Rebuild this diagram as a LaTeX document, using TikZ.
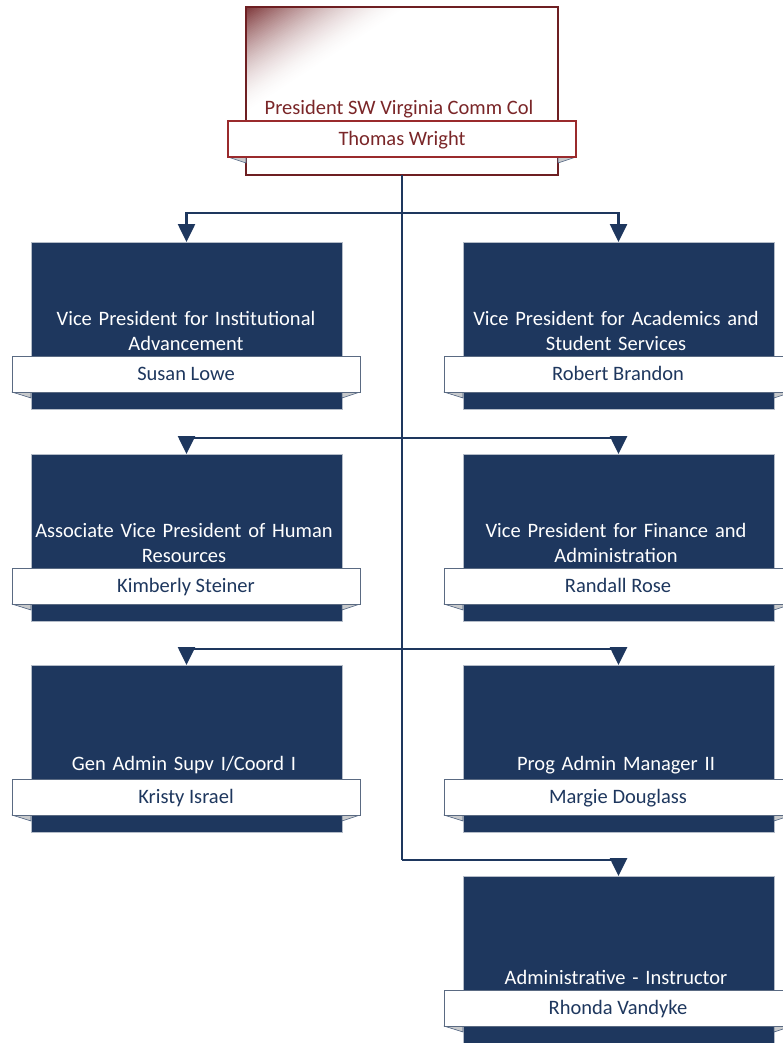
\documentclass[tikz,border=0pt]{standalone}
\usepackage{fontspec}
\setmainfont{Carlito}
\usetikzlibrary{arrows.meta}
\definecolor{navy}{HTML}{1E375E}
\definecolor{maroon}{HTML}{6E1F22}
\definecolor{stripred}{HTML}{9A2A2C}
\definecolor{txtred}{HTML}{7A2628}
\definecolor{edgegray}{HTML}{B4BCC8}
\definecolor{stripedge}{HTML}{5A6A82}
\definecolor{foldgray}{HTML}{C8CACC}
\begin{document}
\begin{tikzpicture}[x=1pt,y=-1pt,
  vpbox/.style={draw=edgegray,line width=1pt,fill=navy,minimum width=311pt,minimum height=167pt,inner sep=0pt,outer sep=0pt},
  namestrip/.style={draw=stripedge,line width=1pt,fill=white,minimum width=348pt,minimum height=36pt,inner sep=0pt,text=navy,font=\fontsize{20.5}{24}\selectfont,text height=15pt,text depth=2pt},
  vptitle/.style={anchor=south,text width=320pt,align=center,text=white,inner sep=0pt,font=\fontsize{20.5}{25.5}\selectfont},
  conn/.style={draw=navy,line width=2.6pt,-{Triangle[length=18pt,width=17pt]}},
  trunk/.style={draw=navy,line width=2.6pt},
  fold/.style={fill=foldgray,draw=navy!80,line width=0.6pt,line join=round}]
\useasboundingbox (0,0) rectangle (783,1043);
\clip (0,0) rectangle (783,1043);

% ---- President box ----
\node[draw=maroon,line width=1.6pt,fill=white,minimum width=312pt,minimum height=168pt,inner sep=0pt,outer sep=0pt] (pres) at (402,91) {};
\foreach \i in {50,49,...,0}{
  \pgfmathsetmacro{\t}{\i/50}
  \pgfmathsetmacro{\pc}{92*(1-\t)^1.7}
  \fill[maroon!\pc!white] (246,7) -- ({246+165*\t},7) -- (246,{7+108*\t}) -- cycle;
}
\draw[maroon,line width=1.6pt] (246,7) rectangle (558,175);
\fill[fold] (228,157) -- (246,157) -- (246,163) -- cycle;
\fill[fold] (576,157) -- (558,157) -- (558,163) -- cycle;
\node[anchor=south,text=txtred,inner sep=0pt,font=\fontsize{20.5}{24}\selectfont] (prest) at (399,118) {President SW Virginia Comm Col};
\node[draw=stripred,line width=1.6pt,fill=white,minimum width=348pt,minimum height=36pt,inner sep=0pt,text=txtred,font=\fontsize{20.5}{24}\selectfont,text height=15pt,text depth=2pt] (presn) at (402,139) {Thomas Wright};

% ---- VP boxes ----
\node[vpbox] (b1) at (186.5,325.5) {};
\node[vpbox] (b2) at (618.5,325.5) {};
\node[vpbox] (b3) at (186.5,537.5) {};
\node[vpbox] (b4) at (618.5,537.5) {};
\node[vpbox] (b5) at (186.5,748.5) {};
\node[vpbox] (b6) at (618.5,748.5) {};
\node[vpbox] (b7) at (618.5,959.5) {};

% folds
\foreach \cx/\sy in {186/392,618/392,186/604,618/604,186/815,618/815,618/1026}{
  \fill[fold] (\cx-174,\sy) -- (\cx-155,\sy) -- (\cx-155,\sy+6) -- cycle;
  \fill[fold] (\cx+174,\sy) -- (\cx+156,\sy) -- (\cx+156,\sy+6) -- cycle;
}

% titles
\node[vptitle] (t1) at (186,351) {Vice President for Institutional\\Advancement};
\node[vptitle] (t2) at (616,351) {Vice President for Academics and\\Student Services};
\node[vptitle] (t3) at (184,563) {Associate Vice President of Human\\Resources};
\node[vptitle] (t4) at (616,563) {Vice President for Finance and\\Administration};
\node[vptitle] (t5) at (184,774) {Gen Admin Supv I/Coord I};
\node[vptitle] (t6) at (616,774) {Prog Admin Manager II};
\node[vptitle] (t7) at (616,985) {Administrative - Instructor};

% name strips
\node[namestrip] (n1) at (186,374) {Susan Lowe};
\node[namestrip] (n2) at (618,374) {Robert Brandon};
\node[namestrip] (n3) at (186,586) {Kimberly Steiner};
\node[namestrip] (n4) at (618,586) {Randall Rose};
\node[namestrip] (n5) at (186,797) {Kristy Israel};
\node[namestrip] (n6) at (618,797) {Margie Douglass};
\node[namestrip] (n7) at (618,1008) {Rhonda Vandyke};

% ---- connectors ----
\coordinate (j1) at (402,213);
\coordinate (j2) at (402,438);
\coordinate (j3) at (402,649);
\coordinate (j4) at (402,860);
\draw[trunk] (pres.south) -- (j4);
\draw[conn] (j1) -| (b1.north);
\draw[conn] (j1) -| (b2.north);
\draw[conn] (j2) -| (b3.north);
\draw[conn] (j2) -| (b4.north);
\draw[conn] (j3) -| (b5.north);
\draw[conn] (j3) -| (b6.north);
\draw[conn] (j4) -| (b7.north);
\end{tikzpicture}
\end{document}
